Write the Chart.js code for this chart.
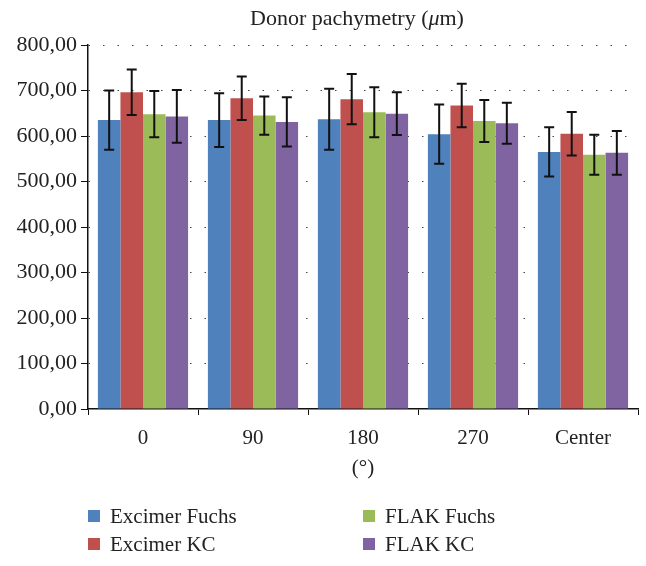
<!DOCTYPE html>
<html>
<head>
<meta charset="utf-8">
<script src="https://cdn.jsdelivr.net/npm/chart.js@4.4.1/dist/chart.umd.min.js"></script>
<style>
  body { margin: 0; background: #fff; }
  #wrap { position: relative; width: 646px; height: 566px; }
  #legend {
    position: absolute; left: 88px; top: 502px;
    display: grid; grid-template-columns: 275px 200px; grid-auto-flow: column; grid-template-rows: 28px 28px;
    font-family: "Liberation Serif", serif; font-size: 21px; color: #222;
  }
  .item { display: flex; align-items: center; }
  .box { width: 12px; height: 12px; margin-right: 10px; }
</style>
</head>
<body>
<div id="wrap">
  <canvas id="chart"></canvas>
  <div id="legend"></div>
</div>
<script>
const categories = ['0', '90', '180', '270', 'Center']
const seriesNames = ['Excimer Fuchs', 'Excimer KC', 'FLAK Fuchs', 'FLAK KC']
const colors = ['#4F81BD', '#C0504D', '#9BBB59', '#8064A2']

// mean values per series (µm)
const excimerFuchs = [635, 635, 637, 604, 565]
const excimerKC = [696, 683, 681, 667, 605]
const flakFuchs = [648, 645, 652, 633, 559]
const flakKC = [643, 631, 649, 628, 563]

// standard deviations (error bars)
const excimerFuchsSD = [65, 59, 67, 65, 54]
const excimerKCSD = [50, 48, 55, 48, 48]
const flakFuchsSD = [51, 42, 55, 46, 44]
const flakKCSD = [58, 54, 47, 45, 48]

const yTicks = [0, 100, 200, 300, 400, 500, 600, 700, 800]

const values = [excimerFuchs, excimerKC, flakFuchs, flakKC]
const errors = [excimerFuchsSD, excimerKCSD, flakFuchsSD, flakKCSD]

const serif = '"Liberation Serif", serif'

const errorBars = {
    id: 'errorBars',
    afterDatasetsDraw(chart) {
        const ctx = chart.ctx
        const y = chart.scales.y
        ctx.save()
        ctx.strokeStyle = '#111'
        ctx.lineWidth = 2
        chart.data.datasets.forEach((ds, i) => {
            const meta = chart.getDatasetMeta(i)
            meta.data.forEach((bar, j) => {
                const top = y.getPixelForValue(ds.data[j] + ds.sd[j])
                const bottom = y.getPixelForValue(ds.data[j] - ds.sd[j])
                ctx.beginPath()
                ctx.moveTo(bar.x, top)
                ctx.lineTo(bar.x, bottom)
                ctx.moveTo(bar.x - 5, top)
                ctx.lineTo(bar.x + 5, top)
                ctx.moveTo(bar.x - 5, bottom)
                ctx.lineTo(bar.x + 5, bottom)
                ctx.stroke()
            })
        })
        ctx.restore()
    }
}

// title with italic mu, and the x axis unit below the labels
const texts = {
    id: 'texts',
    afterDraw(chart) {
        const ctx = chart.ctx
        const area = chart.chartArea
        const parts = [
            ['Donor pachymetry (', '22px ' + serif],
            ['\u03bc', 'italic 22px ' + serif],
            ['m)', '22px ' + serif]
        ]
        ctx.save()
        let total = 0
        parts.forEach(p => { ctx.font = p[1]; total += ctx.measureText(p[0]).width })
        let x = (area.left + area.right) / 2 - 6 - total / 2
        ctx.fillStyle = '#222'
        ctx.textBaseline = 'middle'
        parts.forEach(p => {
            ctx.font = p[1]
            ctx.fillText(p[0], x, 19)
            x += ctx.measureText(p[0]).width
        })
        ctx.font = '21px ' + serif
        ctx.textAlign = 'center'
        ctx.fillText('(\u00b0)', (area.left + area.right) / 2, area.bottom + 59)
        ctx.restore()
    }
}

const datasets = seriesNames.map((name, i) => ({
    label: name,
    data: values[i],
    sd: errors[i],
    backgroundColor: colors[i],
    categoryPercentage: 0.82,
    barPercentage: 1.0
}))

const chart = new Chart(document.getElementById('chart'), {
    type: 'bar',
    data: { labels: categories, datasets: datasets },
    options: {
        responsive: true,
        maintainAspectRatio: false,
        animation: false,
        layout: { padding: { top: 45, right: 8, bottom: 97, left: 0 } },
        plugins: { legend: { display: false }, tooltip: { enabled: false } },
        scales: {
            x: {
                afterFit: scale => { scale.height = 60 },
                grid: { drawOnChartArea: false, offset: true, color: '#111', tickColor: '#111', tickLength: 6 },
                border: { color: '#111', width: 1.5 },
                ticks: { color: '#222', font: { family: serif, size: 21, lineHeight: 1 }, padding: 13 }
            },
            y: {
                min: 0,
                max: 800,
                afterFit: scale => { scale.width = 88 },
                afterBuildTicks: scale => { scale.ticks = yTicks.map(v => ({ value: v })) },
                grid: {
                    color: ctx => ctx.tick && ctx.tick.value === 0 ? 'rgba(0,0,0,0)' : '#444',
                    tickColor: '#111',
                    tickLength: 7,
                    tickBorderDash: []
                },
                border: { color: '#111', width: 1.5, dash: [1.5, 13] },
                ticks: {
                    color: '#222',
                    font: { family: serif, size: 22 },
                    padding: 4,
                    callback: v => v.toFixed(2).replace('.', ',')
                }
            }
        }
    },
    plugins: [errorBars, texts]
})

const legend = document.getElementById('legend')
seriesNames.forEach((name, i) => {
    legend.innerHTML += `<div class="item"><span class="box" style="background:${colors[i]}"></span>${name}</div>`
})
</script>
</body>
</html>
